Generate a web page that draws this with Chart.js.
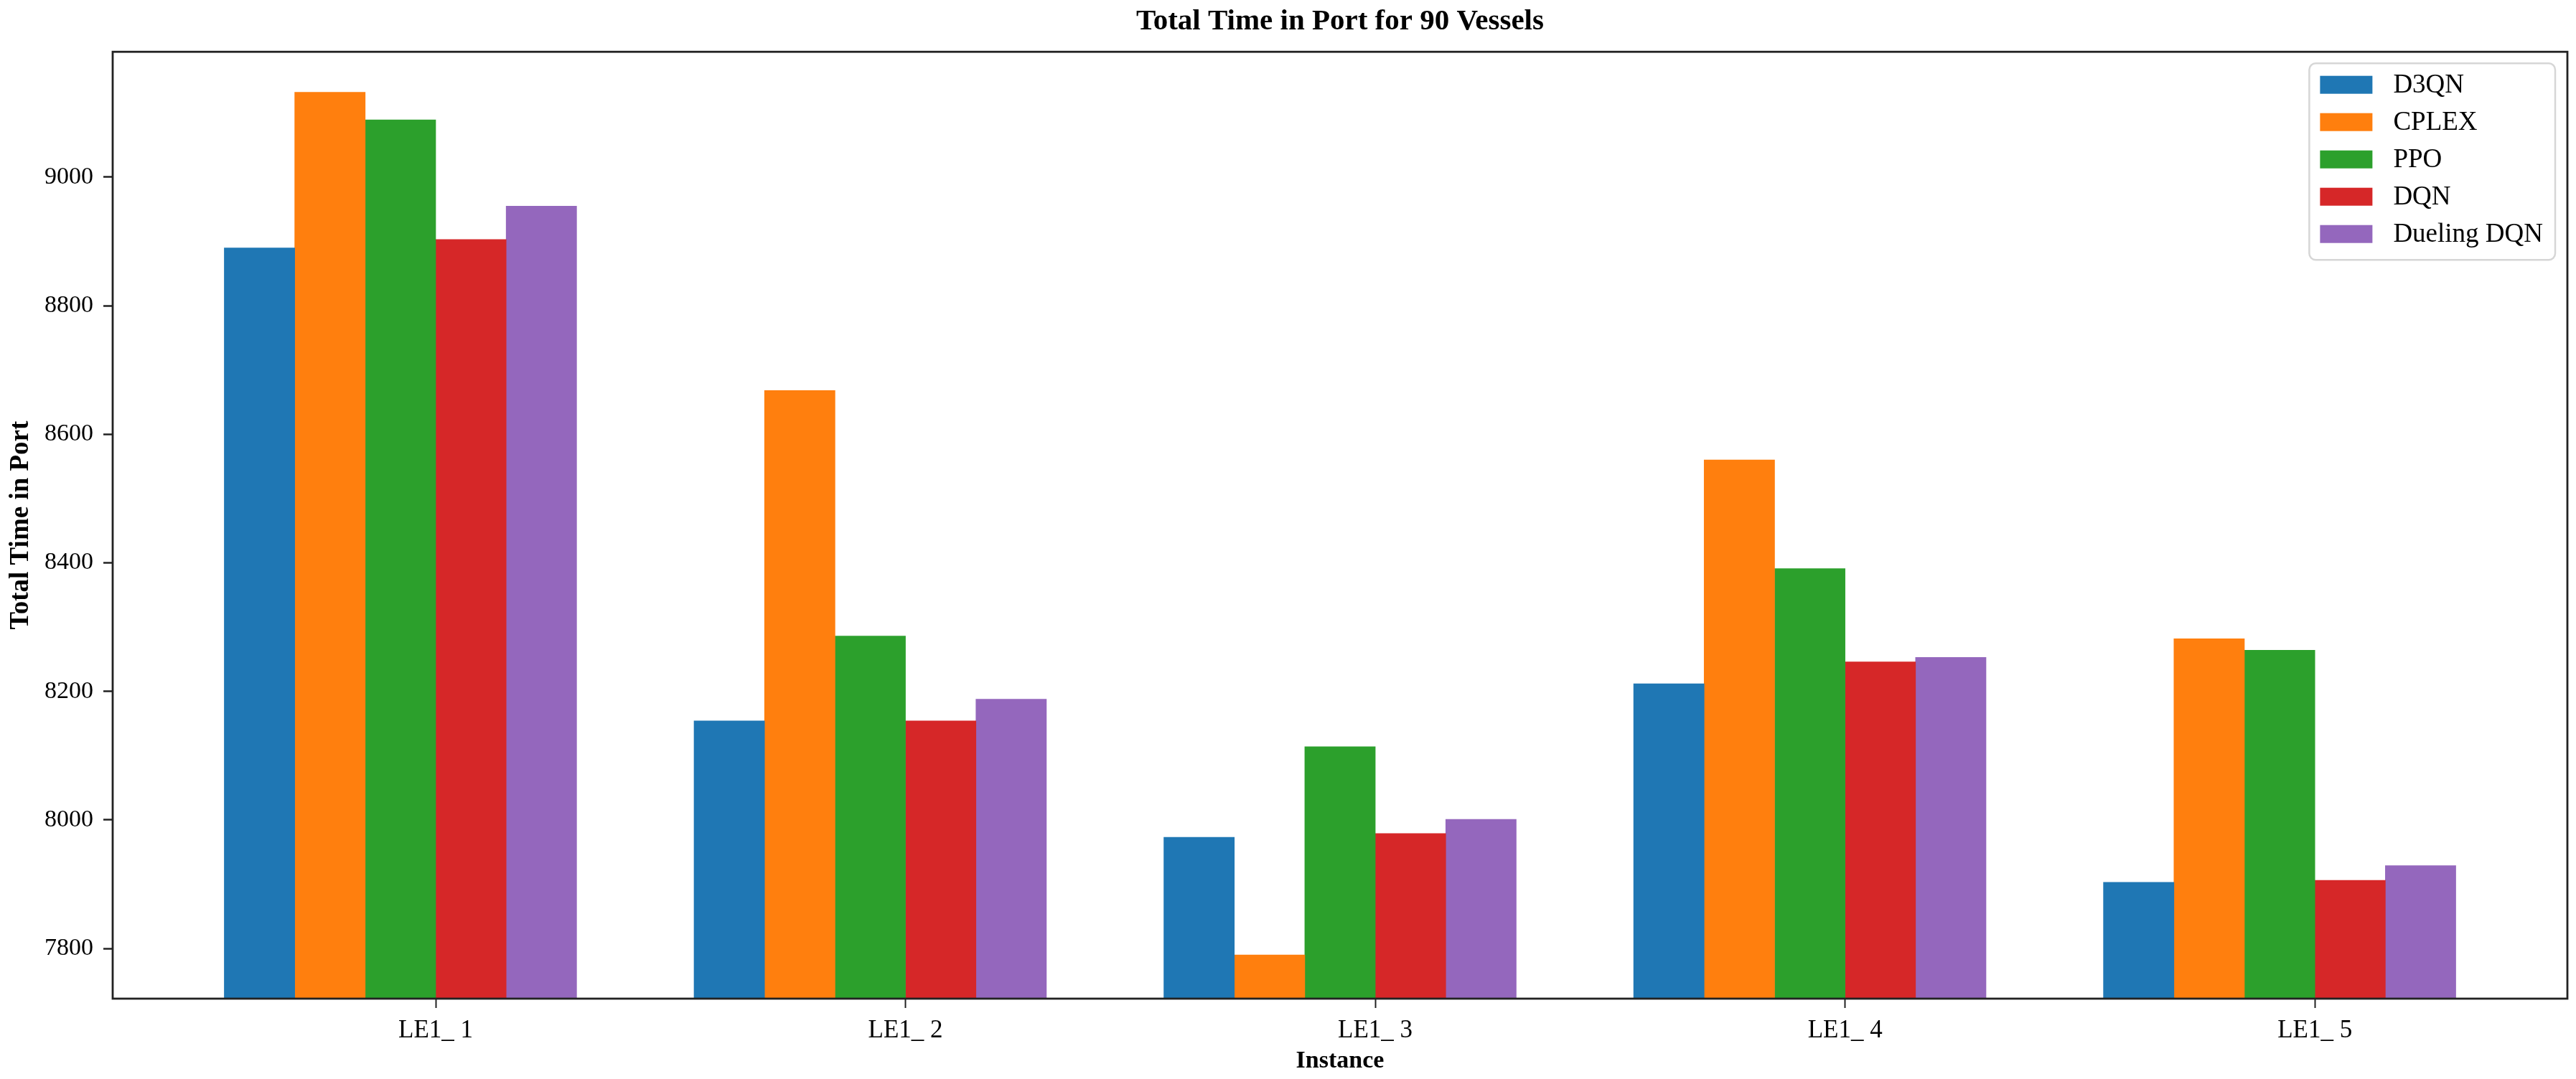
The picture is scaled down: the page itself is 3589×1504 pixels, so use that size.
<!DOCTYPE html>
<html>
<head>
<meta charset="utf-8">
<script src="https://cdn.jsdelivr.net/npm/chart.js@4.4.1/dist/chart.umd.min.js"></script>
<style>
  html, body { margin: 0; padding: 0; background: #ffffff; }
  #wrap { width: 3589px; height: 1504px; }
</style>
</head>
<body>
<div id="wrap"><canvas id="c" width="3589" height="1504"></canvas></div>
<script>
// ---- data ----
const categories = ['LE1_ 1', 'LE1_ 2', 'LE1_ 3', 'LE1_ 4', 'LE1_ 5'];
const seriesNames = ['D3QN', 'CPLEX', 'PPO', 'DQN', 'Dueling DQN'];
const d3qn    = [8890, 8154, 7973, 8212, 7903];
const cplex   = [9132, 8668, 7790, 8560, 8282];
const ppo     = [9089, 8286, 8114, 8391, 8264];
const dqn     = [8903, 8154, 7979, 8246, 7906];
const dueling = [8955, 8188, 8001, 8253, 7929];
const yTicks  = [7800, 8000, 8200, 8400, 8600, 8800, 9000];
const yMin = 7722, yMax = 9195;

// ---- styling ----
const colors = ['#1f77b4', '#ff7f0e', '#2ca02c', '#d62728', '#9467bd'];
const FONT = "'Liberation Serif', 'Times New Roman', serif";
const BAR_W = 0.15;               // bar width in category units
const allSeries = [d3qn, cplex, ppo, dqn, dueling];
const nS = allSeries.length, nG = categories.length;
const dataLo = -BAR_W / 2;
const dataHi = (nG - 1) + (nS - 1) * BAR_W + BAR_W / 2;
const marg = (dataHi - dataLo) * 0.05;

Chart.defaults.color = '#000';
Chart.defaults.font.family = FONT;

const datasets = allSeries.map((vals, i) => ({
  label: seriesNames[i],
  data: vals.map((v, k) => ({ x: k + i * BAR_W, y: v })),
  backgroundColor: colors[i],
  borderWidth: 0,
  grouped: false,
  barPercentage: 1,
  categoryPercentage: 1
}));

const frameAndLegend = {
  id: 'frameAndLegend',
  afterDatasetsDraw(chart) {
    const { ctx, chartArea: a } = chart;
    ctx.save();
    // legend
    ctx.font = "37px " + FONT;
    let tw = 0;
    chart.data.datasets.forEach(d => { tw = Math.max(tw, ctx.measureText(d.label).width); });
    const padL = 15, swW = 73, swH = 25, gap = 29, padR = 17, rowH = 52, padT = 18;
    const boxW = padL + swW + gap + tw + padR;
    const boxH = padT * 2 + rowH * chart.data.datasets.length - (rowH - 30);
    const bx = a.right - 17 - boxW, by = a.top + 16;
    ctx.beginPath();
    ctx.roundRect(bx, by, boxW, boxH, 9);
    ctx.fillStyle = 'rgba(255,255,255,0.85)';
    ctx.fill();
    ctx.lineWidth = 2.5;
    ctx.strokeStyle = '#d6d6d6';
    ctx.stroke();
    chart.data.datasets.forEach((d, i) => {
      const cy = by + 30 + i * rowH;
      ctx.fillStyle = d.backgroundColor;
      ctx.fillRect(bx + padL, cy - swH / 2, swW, swH);
      ctx.fillStyle = '#000';
      ctx.textBaseline = 'middle';
      ctx.textAlign = 'left';
      ctx.fillText(d.label, bx + padL + swW + gap, cy + 1);
    });
    // frame
    ctx.lineWidth = 2.8;
    ctx.strokeStyle = '#222';
    ctx.strokeRect(a.left, a.top, a.right - a.left, a.bottom - a.top);
    ctx.restore();
  }
};

new Chart(document.getElementById('c'), {
  type: 'bar',
  data: { datasets },
  options: {
    responsive: false,
    devicePixelRatio: 1,
    animation: false,
    layout: { padding: { top: 0, left: 0, right: 12, bottom: 0 } },
    plugins: {
      legend: { display: false },
      tooltip: { enabled: false },
      title: {
        display: true,
        text: 'Total Time in Port for 90 Vessels',
        fullSize: false,
        font: { family: FONT, size: 41, weight: 'bold' },
        color: '#000',
        padding: { top: 6, bottom: 17 }
      }
    },
    scales: {
      x: {
        type: 'linear',
        min: dataLo - marg,
        max: dataHi + marg,
        offset: false,
        border: { display: false },
        grid: { offset: false, drawOnChartArea: false, drawTicks: true, tickLength: 13, tickWidth: 2, tickColor: '#222' },
        afterBuildTicks(scale) {
          scale.ticks = categories.map((c, k) => ({ value: k + 2.5 * BAR_W }));
        },
        ticks: {
          autoSkip: false,
          maxRotation: 0,
          padding: 11,
          font: { family: FONT, size: 35 },
          color: '#000',
          callback(value, index) { return categories[index]; }
        },
        title: {
          display: true,
          text: 'Instance',
          font: { family: FONT, size: 34, weight: 'bold' },
          color: '#000',
          padding: { top: 0, bottom: 4 }
        },
        afterFit(scale) { scale.height = 112; }
      },
      y: {
        type: 'linear',
        min: yMin,
        max: yMax,
        border: { display: false },
        grid: { offset: false, drawOnChartArea: false, drawTicks: true, tickLength: 13, tickWidth: 2.5, tickColor: '#222' },
        afterBuildTicks(scale) {
          scale.ticks = yTicks.map(v => ({ value: v }));
        },
        ticks: {
          padding: 14,
          font: { family: FONT, size: 34 },
          color: '#000',
          callback(value) { return String(value); }
        },
        title: {
          display: true,
          text: 'Total Time in Port',
          font: { family: FONT, size: 37, weight: 'bold' },
          color: '#000',
          padding: { top: 7, bottom: 0 }
        },
        afterFit(scale) { scale.width = 157; }
      }
    }
  },
  plugins: [frameAndLegend]
});
</script>
</body>
</html>
